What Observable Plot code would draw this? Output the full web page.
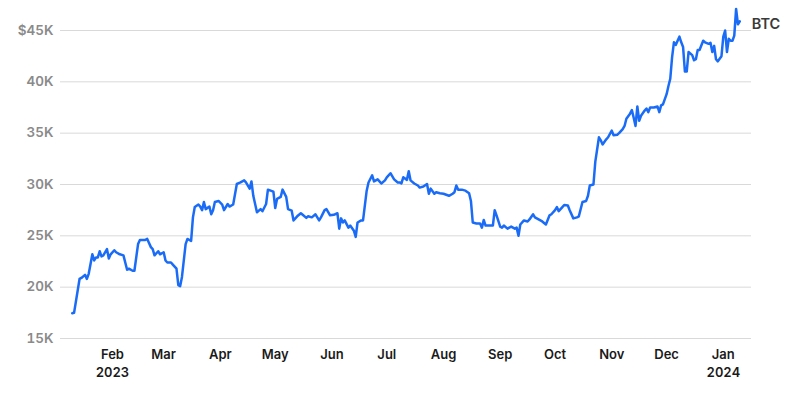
<!DOCTYPE html>
<html><head><meta charset="utf-8">
<script src="https://cdn.jsdelivr.net/npm/d3@7"></script>
<script src="https://cdn.jsdelivr.net/npm/@observablehq/plot@0.6"></script>
<style>
body{margin:0;background:#fff;}
#chart svg{display:block;}
</style>
</head><body><div id="chart"></div>
<script>
const seriesName = "BTC";
// daily-ish sample dates and BTC price in thousands of USD
const dates = [
"2023-01-10","2023-01-11","2023-01-14","2023-01-15","2023-01-17","2023-01-18","2023-01-19","2023-01-21","2023-01-22","2023-01-23","2023-01-24","2023-01-25","2023-01-26","2023-01-27","2023-01-29","2023-01-30","2023-01-31",
"2023-02-02","2023-02-03","2023-02-05","2023-02-07","2023-02-09","2023-02-10","2023-02-12","2023-02-13","2023-02-15","2023-02-16","2023-02-19","2023-02-20","2023-02-22","2023-02-23","2023-02-24","2023-02-26","2023-02-27",
"2023-03-01","2023-03-02","2023-03-03","2023-03-05","2023-03-06","2023-03-08","2023-03-09","2023-03-10","2023-03-11","2023-03-13","2023-03-14","2023-03-16","2023-03-17","2023-03-18","2023-03-20","2023-03-21","2023-03-22","2023-03-23","2023-03-24","2023-03-26","2023-03-27","2023-03-28","2023-03-29","2023-03-31",
"2023-04-02","2023-04-03","2023-04-05","2023-04-06","2023-04-08","2023-04-10","2023-04-12","2023-04-14","2023-04-15","2023-04-17","2023-04-18","2023-04-19","2023-04-21","2023-04-23","2023-04-24","2023-04-26","2023-04-27","2023-04-30",
"2023-05-01","2023-05-02","2023-05-04","2023-05-05","2023-05-07","2023-05-08","2023-05-10","2023-05-11","2023-05-13","2023-05-15","2023-05-16","2023-05-18","2023-05-19","2023-05-21","2023-05-23","2023-05-25","2023-05-26","2023-05-28","2023-05-29","2023-05-31",
"2023-06-02","2023-06-04","2023-06-05","2023-06-06","2023-06-07","2023-06-08","2023-06-10","2023-06-11","2023-06-13","2023-06-14","2023-06-15","2023-06-17","2023-06-18","2023-06-20","2023-06-21","2023-06-23","2023-06-24","2023-06-26","2023-06-27","2023-06-28","2023-06-30",
"2023-07-01","2023-07-03","2023-07-05","2023-07-07","2023-07-08","2023-07-09","2023-07-10","2023-07-12","2023-07-13","2023-07-14","2023-07-16","2023-07-18","2023-07-19","2023-07-21","2023-07-23","2023-07-24","2023-07-25","2023-07-27","2023-07-28","2023-07-30",
"2023-08-01","2023-08-04","2023-08-06","2023-08-07","2023-08-08","2023-08-09","2023-08-11","2023-08-13","2023-08-15","2023-08-16","2023-08-17","2023-08-19","2023-08-21","2023-08-22","2023-08-23","2023-08-24","2023-08-27","2023-08-28","2023-08-29","2023-08-30",
"2023-09-01","2023-09-02","2023-09-03","2023-09-05","2023-09-07","2023-09-09","2023-09-10","2023-09-11","2023-09-12","2023-09-14","2023-09-16","2023-09-17","2023-09-19","2023-09-20","2023-09-22","2023-09-24","2023-09-26","2023-09-28","2023-09-29",
"2023-10-01","2023-10-02","2023-10-03","2023-10-05","2023-10-06","2023-10-08","2023-10-09","2023-10-11","2023-10-13","2023-10-14","2023-10-16","2023-10-18","2023-10-19","2023-10-20","2023-10-22","2023-10-23","2023-10-25","2023-10-26","2023-10-27","2023-10-29","2023-10-30",
"2023-11-01","2023-11-02","2023-11-04","2023-11-05","2023-11-07","2023-11-08","2023-11-09","2023-11-11","2023-11-12","2023-11-13","2023-11-14","2023-11-15","2023-11-16","2023-11-17","2023-11-19","2023-11-20","2023-11-21","2023-11-22","2023-11-24","2023-11-26","2023-11-27","2023-11-28","2023-11-29",
"2023-12-01","2023-12-02","2023-12-03","2023-12-04","2023-12-05","2023-12-06","2023-12-08","2023-12-09","2023-12-10","2023-12-11","2023-12-12","2023-12-13","2023-12-15","2023-12-16","2023-12-17","2023-12-18","2023-12-19","2023-12-21","2023-12-22","2023-12-24","2023-12-25","2023-12-26","2023-12-27","2023-12-28","2023-12-29","2023-12-31",
"2024-01-01","2024-01-02","2024-01-03","2024-01-04","2024-01-05","2024-01-06","2024-01-07","2024-01-08","2024-01-09","2024-01-10"
];
const prices = [
17.46,17.5,20.8,20.9,21.2,20.8,21.3,23.2,22.6,22.9,22.9,23.5,23.0,23.1,23.7,22.8,23.2,
23.6,23.4,23.2,23.1,21.7,21.8,21.6,21.6,24.2,24.6,24.6,24.7,23.9,23.7,23.1,23.5,23.2,
23.4,22.6,22.4,22.4,22.2,21.8,20.2,20.1,21.0,24.2,24.7,24.5,26.8,27.8,28.05,27.85,27.5,28.3,27.6,27.85,27.1,27.5,28.3,28.4,
28.05,27.5,28.1,27.85,28.05,30.05,30.2,30.4,30.2,29.6,30.3,28.9,27.3,27.6,27.4,28.1,29.5,29.3,
27.7,28.6,28.8,29.5,28.8,27.6,27.45,26.5,26.9,27.2,27.05,26.75,26.9,26.8,27.1,26.5,26.8,27.5,27.6,27.0,
27.05,27.2,25.7,26.7,26.3,26.5,25.8,26.0,25.5,24.9,26.3,26.5,26.5,29.4,30.2,30.9,30.3,30.5,30.3,30.1,30.4,
30.7,31.1,30.5,30.2,30.2,30.1,30.7,30.45,31.3,30.4,30.1,29.9,29.7,29.8,30.05,29.1,29.6,29.1,29.25,29.15,
29.1,28.9,29.1,29.25,29.9,29.5,29.5,29.4,29.15,28.4,26.3,26.2,26.2,25.8,26.55,26.0,26.0,26.0,27.5,27.0,
25.9,25.8,26.0,25.7,25.9,25.7,25.8,25.0,26.1,26.5,26.4,26.6,27.1,26.8,26.6,26.4,26.1,27.0,27.1,
27.5,27.8,27.4,27.8,28.0,27.95,27.5,26.7,26.8,26.9,28.3,28.4,28.9,29.9,30.0,32.2,34.6,34.3,33.9,34.4,34.6,
35.25,34.8,34.85,35.0,35.4,35.7,36.4,36.9,37.25,36.5,35.7,37.6,36.2,36.7,37.2,37.4,37.05,37.5,37.5,37.6,37.05,37.7,37.8,
38.8,39.6,40.3,42.4,43.85,43.6,44.4,43.85,43.4,41.0,41.0,42.9,42.6,42.1,42.2,43.1,43.1,44.0,43.85,43.7,43.8,42.9,43.5,42.2,42.0,42.5,
44.4,45.0,42.9,44.2,44.0,44.0,44.5,47.1,45.6,45.9
];
const yTicks = [15, 20, 25, 30, 35, 40, 45];
const monthTicks = ["2023-02-01","2023-03-01","2023-04-01","2023-05-01","2023-06-01","2023-07-01","2023-08-01","2023-09-01","2023-10-01","2023-11-01","2023-12-01","2024-01-01"];

const data = dates.map((d, i) => ({date: new Date(d), price: prices[i]}));
const tickDates = monthTicks.map(d => new Date(d));
const fmtMonth = d3.utcFormat("%b");
const fmtYear = d3.utcFormat("%Y");

const chart = Plot.plot({
  width: 800,
  height: 395,
  marginLeft: 60,
  marginRight: 49,
  marginTop: 30,
  marginBottom: 57,
  style: {fontFamily: "Inter, 'Noto Sans', sans-serif", background: "#fff"},
  x: {type: "utc", domain: [new Date("2023-01-03T14:00Z"), new Date("2024-01-16T10:00Z")]},
  y: {domain: [15, 45]},
  marks: [
    Plot.gridY(yTicks, {stroke: "#d9d9d9", strokeOpacity: 1, strokeWidth: 1}),
    Plot.axisY(yTicks, {
      tickSize: 0, tickPadding: 7, label: null,
      tickFormat: d => (d === 45 ? "$" : "") + d + "K",
      fontSize: 13.5, fontWeight: 600, fill: "#8a8a8a"
    }),
    Plot.axisX(tickDates, {
      tickSize: 0, tickPadding: 8, label: null,
      tickFormat: (d, i) => (i === 0 || d.getUTCMonth() === 0) ? fmtMonth(d) + "\n" + fmtYear(d) : fmtMonth(d),
      fontSize: 13, fontWeight: 600, fill: "#1a1a1a", lineHeight: 1.38
    }),
    Plot.line(data, {x: "date", y: "price", stroke: "#1a6cf7", strokeWidth: 2.5, strokeLinejoin: "round"}),
    Plot.text(data.slice(-1), {
      x: "date", y: "price", text: () => seriesName,
      textAnchor: "start", dx: 12, dy: 3,
      fontSize: 14.5, fontWeight: 600, fill: "#3a3a3a"
    })
  ]
});
document.getElementById("chart").appendChild(chart);
</script>
</body></html>
